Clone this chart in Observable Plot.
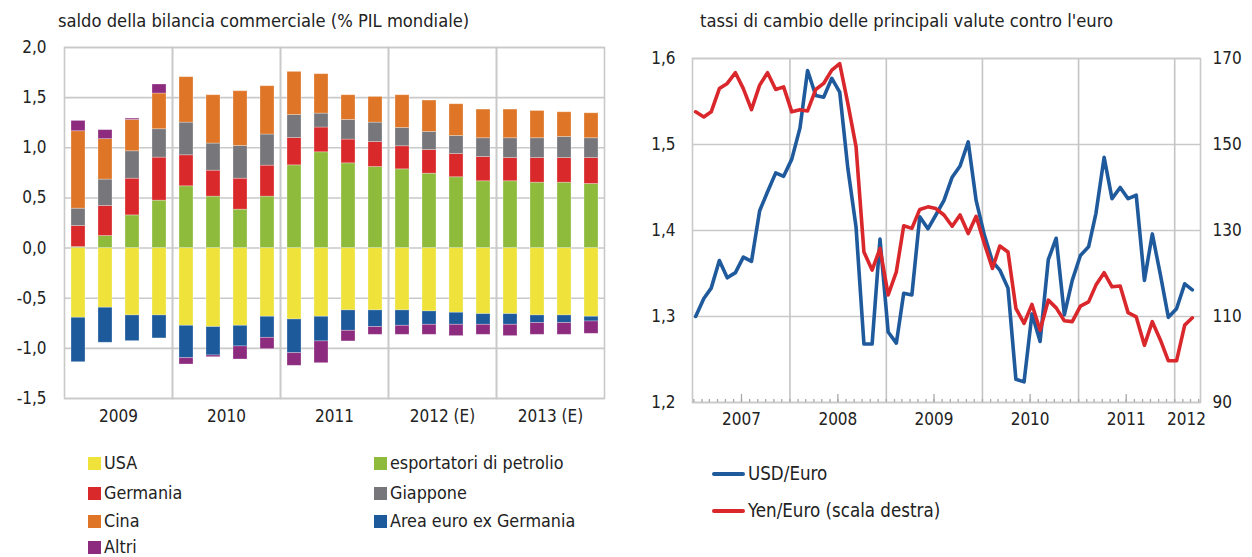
<!DOCTYPE html>
<html><head><meta charset="utf-8">
<script src="https://cdn.jsdelivr.net/npm/d3@7"></script>
<script src="https://cdn.jsdelivr.net/npm/@observablehq/plot@0.6"></script>
<style>
body{margin:0;background:#fff;}
#root{position:relative;width:1252px;height:557px;overflow:hidden;font-family:"Liberation Sans Narrow","DejaVu Sans Condensed",sans-serif;color:#222;}
.abs{position:absolute;white-space:nowrap;}
.title{font-size:18.2px;}
.leg{font-size:17.8px;display:flex;align-items:center;height:20px;line-height:20px;}
.legr{font-size:18.6px;display:flex;align-items:center;height:22px;line-height:22px;}
.sw{display:inline-block;width:13px;height:13px;margin-right:3px;}
.ln{display:inline-block;width:33px;height:4px;border-radius:2px;margin-right:3px;}
</style></head><body><div id="root"></div>
<script>
// ---- left chart data ----
const years = ["2009", "2010", "2011", "2012 (E)", "2013 (E)"];
const quarters = ["Q1", "Q2", "Q3", "Q4"];
const seriesNames = ["USA", "esportatori di petrolio", "Germania", "Giappone", "Cina", "Area euro ex Germania", "Altri"];
const seriesColors = ["#efe23b", "#8fbb3d", "#d9292b", "#77777b", "#df7627", "#1d5a9b", "#8d2c7f"];
const usa     = [-0.695,-0.595,-0.672,-0.672,-0.775,-0.788,-0.775,-0.685,-0.712,-0.685,-0.622,-0.622,-0.622,-0.632,-0.645,-0.659,-0.659,-0.672,-0.672,-0.685];
const oil     = [0.01,0.12,0.326,0.473,0.616,0.513,0.383,0.513,0.825,0.955,0.845,0.808,0.785,0.742,0.706,0.666,0.666,0.652,0.652,0.639];
const germany = [0.21,0.30,0.366,0.429,0.309,0.259,0.309,0.309,0.273,0.247,0.237,0.25,0.23,0.236,0.232,0.242,0.232,0.246,0.246,0.259];
const japan   = [0.173,0.263,0.273,0.283,0.326,0.27,0.326,0.31,0.229,0.139,0.196,0.193,0.183,0.18,0.18,0.187,0.197,0.197,0.21,0.197];
const china   = [0.772,0.403,0.313,0.356,0.453,0.482,0.546,0.482,0.43,0.393,0.246,0.256,0.326,0.313,0.316,0.286,0.286,0.272,0.246,0.249];
const euroExDe= [-0.443,-0.349,-0.256,-0.229,-0.323,-0.283,-0.206,-0.21,-0.336,-0.246,-0.203,-0.166,-0.153,-0.133,-0.12,-0.106,-0.106,-0.076,-0.076,-0.047];
const altri   = [0.103,0.09,0.013,0.09,-0.063,-0.017,-0.13,-0.113,-0.126,-0.217,-0.106,-0.077,-0.09,-0.10,-0.113,-0.10,-0.113,-0.117,-0.117,-0.123];
const leftTicks = [-1.5,-1,-0.5,0,0.5,1,1.5,2];

// ---- right chart data ----
const firstMonth = "2007-01";
const usdEuro = [1.300,1.321,1.333,1.365,1.345,1.351,1.369,1.364,1.423,1.445,1.467,1.463,1.483,1.519,1.586,1.557,1.555,1.577,1.561,1.472,1.404,1.268,1.268,1.390,1.282,1.269,1.327,1.325,1.416,1.402,1.418,1.435,1.462,1.475,1.503,1.435,1.395,1.364,1.354,1.333,1.227,1.224,1.303,1.271,1.366,1.391,1.302,1.342,1.371,1.381,1.420,1.485,1.437,1.450,1.437,1.441,1.342,1.396,1.348,1.299,1.309,1.338,1.331];
const yenEuro = [157.6,156.4,157.6,163.0,164.2,166.7,163.0,158.1,163.8,166.7,162.8,163.4,157.6,158.1,157.8,162.8,164.2,167.3,168.8,159.5,149.5,125.0,120.8,125.8,115.0,120.4,131.1,130.5,134.9,135.5,135.1,133.6,131.0,133.6,129.3,133.3,127.0,121.2,126.4,125.0,111.9,108.4,112.8,106.8,113.8,112.0,109.0,108.8,112.4,113.4,117.3,120.2,116.9,117.1,110.9,109.9,103.3,108.8,104.5,99.7,99.7,108.0,109.7];
const usdTicks = [1.2,1.3,1.4,1.5,1.6];
const yenTicks = [90,110,130,150,170];
const xLabels = ["2007","2008","2009","2010","2011","2012"];

const font = '"Liberation Sans Narrow","DejaVu Sans Condensed",sans-serif';
const root = document.getElementById("root");
const comma = d => d.toFixed(1).replace(".", ",");

// ---------- LEFT: stacked bars ----------
const seriesArrays = [usa, oil, germany, japan, china, euroExDe, altri];
const rows = [];
seriesNames.forEach((s, si) => {
  seriesArrays[si].forEach((v, i) => {
    rows.push({series: s, year: years[Math.floor(i / 4)], q: quarters[i % 4], value: v});
  });
});

const left = Plot.plot({
  width: 620, height: 400,
  marginLeft: 62, marginRight: 14, marginTop: 7, marginBottom: 42,
  style: {fontFamily: font, fontSize: "17px", color: "#222", background: "transparent", overflow: "visible"},
  fx: {domain: years, padding: 0, label: null},
  x: {domain: quarters, paddingInner: 0.5, paddingOuter: 0.25, axis: null},
  y: {domain: [-1.5, 2.0], label: null},
  color: {domain: seriesNames, range: seriesColors},
  marks: [
    Plot.gridY(leftTicks, {stroke: "#c9c9c9", strokeOpacity: 1, strokeWidth: 1.6}),
    Plot.barY(rows, {fx: "year", x: "q", y: "value", fill: "series", stroke: "#fff", strokeOpacity: 0.35, strokeWidth: 0.8}),
    Plot.frame({stroke: "#c9c9c9", strokeWidth: 1.6}),
    Plot.axisY(leftTicks, {tickSize: 0, tickPadding: 18, tickFormat: comma, fontSize: 17}),
    Plot.axisFx({anchor: "bottom", tickSize: 0, tickPadding: 11, label: null, fontSize: 17})
  ]
});
left.style.position = "absolute"; left.style.left = "0px"; left.style.top = "40px";
root.appendChild(left);

// ---------- RIGHT: dual-axis lines ----------
const start = new Date(firstMonth + "-01T00:00:00Z");
const lineRows = usdEuro.map((u, i) => ({date: d3.utcDay.offset(d3.utcMonth.offset(start, i), 7), usd: u, yen: yenEuro[i]}));
const yenToUsd = y => 1.2 + (y - 90) / 200;
const usdToYen = u => 90 + (u - 1.2) * 200;
const xDomain = [new Date("2006-12-27T00:00:00Z"), new Date("2012-04-08T00:00:00Z")];
const yearStarts = d3.utcYear.range(new Date("2008-01-01T00:00:00Z"), new Date("2012-06-01T00:00:00Z"));
const monthTicks = d3.utcMonth.range(new Date("2007-01-01T00:00:00Z"), xDomain[1]);
const midYears = xLabels.slice(0, 5).map(y => new Date(y + "-07-01T00:00:00Z"));
const labelDates = xLabels.map((y, i) => i < 5 ? new Date(y + "-07-01T00:00:00Z") : new Date(y + "-02-15T00:00:00Z"));

const right = Plot.plot({
  width: 632, height: 400,
  marginLeft: 72, marginRight: 52, marginTop: 18, marginBottom: 38,
  style: {fontFamily: font, fontSize: "17px", color: "#222", background: "transparent", overflow: "visible"},
  x: {type: "utc", domain: xDomain, label: null},
  y: {domain: [1.2, 1.6], label: null},
  marks: [
    Plot.gridY(usdTicks, {stroke: "#c9c9c9", strokeOpacity: 1, strokeWidth: 1.6}),
    Plot.gridX(yearStarts, {stroke: "#c4c4c4", strokeOpacity: 1, strokeWidth: 1.6}),
    Plot.frame({stroke: "#c9c9c9", strokeWidth: 1.6}),
    Plot.axisX(monthTicks, {tickSize: -3, tickFormat: () => "", stroke: "#a8a8a8", strokeWidth: 1.3}),
    Plot.axisX(midYears, {tickSize: -8, tickFormat: () => "", stroke: "#a8a8a8", strokeWidth: 1.3}),
    Plot.axisX(labelDates, {tickSize: 0, tickPadding: 10, tickFormat: d => String(d.getUTCFullYear()), fontSize: 17}),
    Plot.line(lineRows, {x: "date", y: "usd", stroke: "#1f5a9c", strokeWidth: 3.6}),
    Plot.line(lineRows, {x: "date", y: d => yenToUsd(d.yen), stroke: "#d9272c", strokeWidth: 3.6}),
    Plot.axisY(usdTicks, {anchor: "left", tickSize: 0, tickPadding: 17, tickFormat: comma, fontSize: 17}),
    Plot.axisY(yenTicks.map(yenToUsd), {anchor: "right", tickSize: 0, tickPadding: 12, tickFormat: u => String(Math.round(usdToYen(u))), fontSize: 17})
  ]
});
right.style.position = "absolute"; right.style.left = "620px"; right.style.top = "40px";
root.appendChild(right);

// ---------- titles ----------
function addDiv(cls, html, x, y) {
  const d = document.createElement("div");
  d.className = "abs " + cls; d.innerHTML = html;
  d.style.left = x + "px"; d.style.top = y + "px";
  root.appendChild(d); return d;
}
addDiv("title", "saldo della bilancia commerciale (% PIL mondiale)", 58, 10);
addDiv("title", "tassi di cambio delle principali valute contro l'euro", 700, 10);

// ---------- legends ----------
const legLayout = [
  [0, 88, 453], [1, 374, 453],
  [2, 88, 483], [3, 374, 483],
  [4, 88, 511], [5, 374, 511],
  [6, 88, 537]
];
legLayout.forEach(([si, x, y]) => {
  addDiv("leg", `<span class="sw" style="background:${seriesColors[si]}"></span>${seriesNames[si]}`, x, y);
});
addDiv("legr", `<span class="ln" style="background:#1f5a9c"></span>USD/Euro`, 712, 463);
addDiv("legr", `<span class="ln" style="background:#d9272c"></span>Yen/Euro (scala destra)`, 712, 500);
</script></body></html>
